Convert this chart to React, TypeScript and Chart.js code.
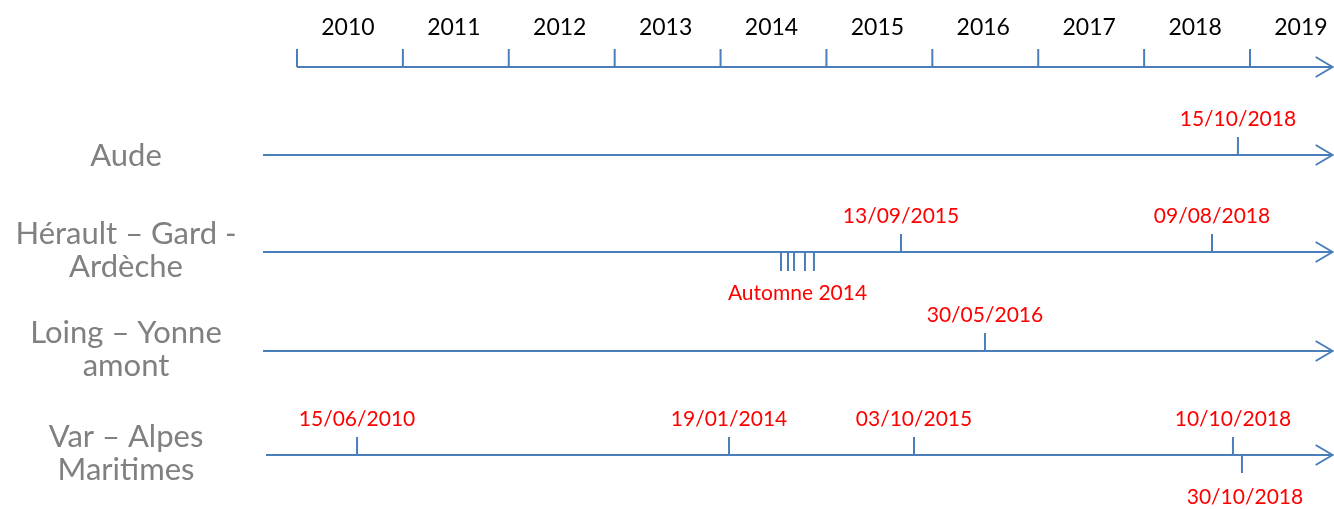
import React, { useEffect, useRef } from "react";
import { Chart, registerables } from "chart.js";

Chart.register(...registerables);

// ---- data ----
const YEARS = [2010, 2011, 2012, 2013, 2014, 2015, 2016, 2017, 2018, 2019];
const YEAR_LABELS = ["2010", "2011", "2012", "2013", "2014", "2015", "2016", "2017", "2018", "2019"];

const ROW_NAMES = [
  ["Aude"],
  ["Hérault – Gard -", "Ardèche"],
  ["Loing – Yonne", "amont"],
  ["Var – Alpes", "Maritimes"],
];
const ROW_START = [2009.679, 2009.679, 2009.679, 2009.707];
const AXIS_END = 2019.78;

// events: row index, position (decimal year), label, side (1 = above, -1 = below)
const EVENT_ROW = [0, 1, 1, 2, 3, 3, 3, 3, 3];
const EVENT_X = [2018.886, 2015.704, 2018.641, 2016.497, 2010.567, 2014.08, 2015.827, 2018.839, 2018.924];
const EVENT_LABEL = [
  "15/10/2018",
  "13/09/2015",
  "09/08/2018",
  "30/05/2016",
  "15/06/2010",
  "19/01/2014",
  "03/10/2015",
  "10/10/2018",
  "30/10/2018",
];
const EVENT_SIDE = [1, 1, 1, 1, 1, 1, 1, 1, -1];

const AUTOMNE_ROW = 1;
const AUTOMNE_X = [2014.571, 2014.637, 2014.694, 2014.797, 2014.882];
const AUTOMNE_LABEL = "Automne 2014";

// ---- layout ----
const W = 1334;
const H = 509;
const X_MIN = 2007.1952;
const X_MAX = 2019.7932;
const AXIS_Y = 67;
const ROW_Y = [155, 252, 351, 455];
const TICK = 18;
const ARROW_DX = 0.16;
const ARROW_DY = 10;
const BLUE = "#4a7ebb";
const FONT = "Lato, 'Open Sans', sans-serif";

function seg(points: { x: number; y: number }[], width = 2) {
  return {
    data: points,
    showLine: true,
    borderColor: BLUE,
    backgroundColor: BLUE,
    borderWidth: width,
    pointRadius: 0,
    pointHoverRadius: 0,
    tension: 0,
    clip: false as any,
    borderJoinStyle: "miter" as const,
    borderCapStyle: "butt" as const,
  };
}

function arrow(y: number) {
  return seg([
    { x: AXIS_END - ARROW_DX, y: y - ARROW_DY },
    { x: AXIS_END, y },
    { x: AXIS_END - ARROW_DX, y: y + ARROW_DY },
  ]);
}

export default function App() {
  const ref = useRef<HTMLCanvasElement | null>(null);

  useEffect(() => {
    const canvas = ref.current;
    if (!canvas) return;
    const datasets: any[] = [];

    // top year axis
    datasets.push(seg([{ x: YEARS[0], y: AXIS_Y }, { x: AXIS_END, y: AXIS_Y }]));
    datasets.push(arrow(AXIS_Y));
    YEARS.forEach((yr) => datasets.push(seg([{ x: yr, y: AXIS_Y }, { x: yr, y: AXIS_Y - TICK }])));

    // row lines
    ROW_Y.forEach((ry, i) => {
      datasets.push(seg([{ x: ROW_START[i], y: ry }, { x: AXIS_END, y: ry }]));
      datasets.push(arrow(ry));
    });

    // event ticks
    EVENT_X.forEach((ex, i) => {
      const ry = ROW_Y[EVENT_ROW[i]];
      datasets.push(seg([{ x: ex, y: ry }, { x: ex, y: ry - EVENT_SIDE[i] * TICK }]));
    });

    // automne ticks
    AUTOMNE_X.forEach((ax) => {
      const ry = ROW_Y[AUTOMNE_ROW];
      datasets.push(seg([{ x: ax, y: ry }, { x: ax, y: ry + TICK + 1 }]));
    });

    const textPlugin = {
      id: "timelineText",
      afterDatasetsDraw(chart: any) {
        const { ctx, scales } = chart;
        const xs = scales.x;
        const ys = scales.y;
        ctx.save();
        ctx.textAlign = "center";
        ctx.textBaseline = "middle";

        // year labels
        ctx.fillStyle = "#000000";
        ctx.font = `23px ${FONT}`;
        YEAR_LABELS.forEach((lab, i) => {
          ctx.fillText(lab, xs.getPixelForValue(YEARS[i] + 0.5) - 2, ys.getPixelForValue(AXIS_Y - 39));
        });

        // row labels
        ctx.fillStyle = "#808080";
        ctx.font = `31px ${FONT}`;
        ROW_NAMES.forEach((lines, i) => {
          const cy = ys.getPixelForValue(ROW_Y[i]);
          const n = lines.length;
          lines.forEach((ln, j) => {
            const off = (j - (n - 1) / 2) * 33 - (n > 1 ? 2 : -1);
            ctx.fillText(ln, 126, cy + off);
          });
        });

        // event labels
        ctx.fillStyle = "#ff0000";
        ctx.font = `21px ${FONT}`;
        EVENT_X.forEach((ex, i) => {
          const ry = ROW_Y[EVENT_ROW[i]];
          const side = EVENT_SIDE[i];
          const ly = side > 0 ? ry - TICK - 18 : ry + TICK + 24;
          ctx.fillText(EVENT_LABEL[i], xs.getPixelForValue(ex) + (side > 0 ? 0 : 3), ys.getPixelForValue(ly));
        });
        const amid = (AUTOMNE_X[0] + AUTOMNE_X[AUTOMNE_X.length - 1]) / 2;
        ctx.fillText(
          AUTOMNE_LABEL,
          xs.getPixelForValue(amid),
          ys.getPixelForValue(ROW_Y[AUTOMNE_ROW] + TICK + 23)
        );
        ctx.restore();
      },
    };

    const chart = new Chart(canvas, {
      type: "scatter",
      data: { datasets },
      options: {
        animation: false,
        responsive: false,
        events: [],
        layout: { padding: 0 },
        plugins: { legend: { display: false }, tooltip: { enabled: false } },
        scales: {
          x: { type: "linear", min: X_MIN, max: X_MAX, display: false },
          y: { type: "linear", min: 0, max: H, reverse: true, display: false },
        },
      },
      plugins: [textPlugin],
    });
    return () => chart.destroy();
  }, []);

  return (
    <div style={{ position: "fixed", left: 0, top: 0, width: W, height: H, background: "#ffffff" }}>
      <canvas ref={ref} width={W} height={H} style={{ width: W, height: H, display: "block" }} />
    </div>
  );
}
